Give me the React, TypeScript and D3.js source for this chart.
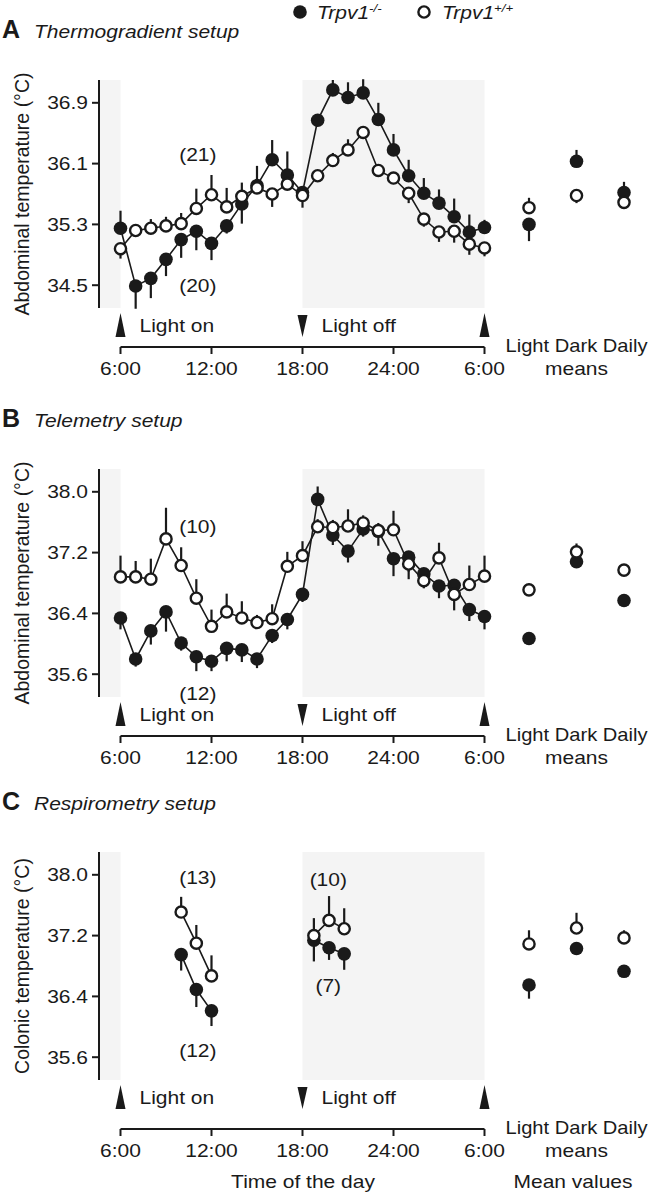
import React from "react";
import * as d3 from "d3";

// ---------- DATA ----------
const hours = [6, 7, 8, 9, 10, 11, 12, 13, 14, 15, 16, 17, 18, 19, 20, 21, 22, 23, 24, 25, 26, 27, 28, 29, 30];
const hourTicks = [6, 12, 18, 24, 30];
const hourTickLabels = ["6:00", "12:00", "18:00", "24:00", "6:00"];
const meanGroups = ["Light", "Dark", "Daily"];

// A: thermogradient (signed SEM: + drawn upward, - drawn downward)
const thermoKo = [35.25, 34.49, 34.59, 34.84, 35.1, 35.21, 35.05, 35.28, 35.57, 35.81, 36.15, 35.95, 35.72, 36.67, 37.07, 36.97, 37.03, 36.68, 36.28, 35.94, 35.71, 35.58, 35.4, 35.2, 35.26];
const thermoKoErr = [0.23, -0.3, -0.26, -0.22, -0.24, -0.25, -0.22, -0.1, -0.26, 0.26, 0.26, 0.31, 0.08, 0.08, 0.13, 0.2, 0.18, 0.22, 0.21, 0.21, 0.2, 0.18, 0.24, 0.23, 0.1];
const thermoWt = [34.98, 35.22, 35.25, 35.28, 35.31, 35.51, 35.69, 35.53, 35.67, 35.78, 35.7, 35.83, 35.68, 35.94, 36.14, 36.28, 36.51, 36.01, 35.91, 35.71, 35.37, 35.2, 35.21, 35.04, 34.99];
const thermoWtErr = [-0.13, 0.05, 0.12, 0.12, 0.14, 0.26, 0.26, 0.25, 0.18, 0.1, -0.17, 0.1, -0.16, 0.05, 0.1, 0.14, 0.05, -0.08, -0.08, -0.13, -0.1, -0.13, -0.15, -0.14, -0.11];

// B: telemetry
const telemKo = [36.34, 35.8, 36.17, 36.42, 36.01, 35.83, 35.77, 35.94, 35.92, 35.8, 36.11, 36.32, 36.65, 37.9, 37.43, 37.22, 37.51, 37.48, 37.12, 37.14, 36.92, 36.76, 36.77, 36.45, 36.36];
const telemKoErr = [-0.15, -0.1, -0.18, -0.26, -0.1, -0.19, -0.13, -0.17, -0.16, -0.12, -0.1, -0.13, -0.1, 0.17, -0.13, -0.15, -0.1, -0.19, -0.23, -0.29, -0.18, -0.16, -0.1, -0.15, -0.17];
const telemWt = [36.88, 36.88, 36.85, 37.38, 37.03, 36.6, 36.23, 36.42, 36.34, 36.28, 36.33, 37.02, 37.16, 37.54, 37.53, 37.55, 37.59, 37.49, 37.5, 37.05, 36.83, 37.13, 36.65, 36.78, 36.89];
const telemWtErr = [0.28, 0.21, 0.27, 0.41, 0.24, 0.25, 0.22, 0.24, 0.22, 0.1, 0.19, 0.19, 0.19, 0.1, 0.1, 0.22, 0.1, 0.1, 0.25, -0.1, -0.1, 0.2, -0.21, 0.25, 0.27];

// C: respirometry
const respHours = [10, 11, 12, 18.75, 19.75, 20.75];
const respKo = [36.95, 36.49, 36.21, 37.14, 37.04, 36.96];
const respKoErr = [-0.21, -0.23, -0.2, -0.28, -0.16, -0.21];
const respWt = [37.51, 37.1, 36.67, 37.2, 37.4, 37.29];
const respWtErr = [0.2, 0.24, 0.27, 0.23, 0.32, 0.27];

// Mean values (Light, Dark, Daily)
const meanThermoKo = [35.3, 36.13, 35.72];
const meanThermoKoErr = [-0.22, 0.15, 0.14];
const meanThermoWt = [35.52, 35.68, 35.59];
const meanThermoWtErr = [0.13, -0.1, -0.05];
const meanTelemKo = [36.07, 37.08, 36.57];
const meanTelemKoErr = [-0.08, -0.05, -0.05];
const meanTelemWt = [36.71, 37.21, 36.97];
const meanTelemWtErr = [0.08, 0.11, 0.05];
const meanRespKo = [36.55, 37.03, 36.73];
const meanRespKoErr = [-0.18, -0.05, -0.05];
const meanRespWt = [37.09, 37.3, 37.17];
const meanRespWtErr = [0.18, 0.2, 0.1];

const ticksA = [34.5, 35.3, 36.1, 36.9];
const ticksBC = [35.6, 36.4, 37.2, 38.0];

// ---------- LAYOUT ----------
const W = 650;
const H = 1200;
const FONT = "'Liberation Sans', Arial, Helvetica, sans-serif";
const SX = 1.2;
const AXIS_X = 99;
const PLOT_H = 228;

const x = d3.scaleLinear().domain([6, 30]).range([120.5, 484.5]);
const xm = d3.scalePoint<string>().domain(meanGroups).range([529, 624]);

type Series = { h: number[]; v: number[]; e: number[] };
type Panel = {
  letter: string;
  title: string;
  top: number;
  axisGap: number;
  domain: [number, number];
  ticks: number[];
  ylabel: string;
  ko: Series;
  wt: Series;
  mKo: number[];
  mKoE: number[];
  mWt: number[];
  mWtE: number[];
  notes: { t: string; h: number; v: number }[];
};

const panels: Panel[] = [
  {
    letter: "A",
    title: "Thermogradient setup",
    top: 80,
    axisGap: 39,
    domain: [34.2, 37.2],
    ticks: ticksA,
    ylabel: "Abdominal temperature (°C)",
    ko: { h: hours, v: thermoKo, e: thermoKoErr },
    wt: { h: hours, v: thermoWt, e: thermoWtErr },
    mKo: meanThermoKo,
    mKoE: meanThermoKoErr,
    mWt: meanThermoWt,
    mWtE: meanThermoWtErr,
    notes: [
      { t: "(21)", h: 11.1, v: 36.22 },
      { t: "(20)", h: 11.1, v: 34.5 },
    ],
  },
  {
    letter: "B",
    title: "Telemetry setup",
    top: 469,
    axisGap: 39,
    domain: [35.3, 38.3],
    ticks: ticksBC,
    ylabel: "Abdominal temperature (°C)",
    ko: { h: hours, v: telemKo, e: telemKoErr },
    wt: { h: hours, v: telemWt, e: telemWtErr },
    mKo: meanTelemKo,
    mKoE: meanTelemKoErr,
    mWt: meanTelemWt,
    mWtE: meanTelemWtErr,
    notes: [
      { t: "(10)", h: 11.1, v: 37.54 },
      { t: "(12)", h: 11.1, v: 35.35 },
    ],
  },
  {
    letter: "C",
    title: "Respirometry setup",
    top: 852,
    axisGap: 49,
    domain: [35.3, 38.3],
    ticks: ticksBC,
    ylabel: "Colonic temperature (°C)",
    ko: { h: respHours, v: respKo, e: respKoErr },
    wt: { h: respHours, v: respWt, e: respWtErr },
    mKo: meanRespKo,
    mKoE: meanRespKoErr,
    mWt: meanRespWt,
    mWtE: meanRespWtErr,
    notes: [
      { t: "(13)", h: 11.1, v: 37.96 },
      { t: "(12)", h: 11.1, v: 35.69 },
      { t: "(10)", h: 19.7, v: 37.93 },
      { t: "(7)", h: 19.7, v: 36.54 },
    ],
  },
];

function T(props: {
  x: number;
  y: number;
  anchor?: string;
  size?: number;
  italic?: boolean;
  bold?: boolean;
  sx?: number;
  dy?: string;
  children: React.ReactNode;
}) {
  const { x, y, anchor = "middle", size = 17.5, italic, bold, sx = SX, dy, children } = props;
  return (
    <text
      transform={`translate(${x},${y}) scale(${sx},1)`}
      textAnchor={anchor as any}
      fontSize={size}
      fontFamily={FONT}
      fontStyle={italic ? "italic" : "normal"}
      fontWeight={bold ? "bold" : "normal"}
      dy={dy}
      fill="#1a1a1a"
    >
      {children}
    </text>
  );
}

const R_FILL = 6.8;
const R_OPEN = 5.6;
const OPEN_SW = 2.4;
const INK = "#1a1a1a";

function segments(s: Series) {
  const segs: [number, number][][] = [];
  let cur: [number, number][] = [];
  s.h.forEach((h, i) => {
    if (i > 0 && h - s.h[i - 1] > 1.5) {
      segs.push(cur);
      cur = [];
    }
    cur.push([h, s.v[i]]);
  });
  if (cur.length) segs.push(cur);
  return segs;
}

function PanelView({ p }: { p: Panel }) {
  const bottom = p.top + PLOT_H;
  const y = d3.scaleLinear().domain(p.domain).range([bottom, p.top]);
  const line = d3
    .line<[number, number]>()
    .x((d) => x(d[0]))
    .y((d) => y(d[1]));

  const drawSeries = (s: Series, filled: boolean, key: string) => (
    <g key={key}>
      {segments(s).map((seg, i) => (
        <path key={i} d={line(seg) || ""} fill="none" stroke={INK} strokeWidth={1.6} />
      ))}
      {s.h.map((h, i) => (
        <line key={"e" + i} x1={x(h)} x2={x(h)} y1={y(s.v[i])} y2={y(s.v[i] + s.e[i])} stroke={INK} strokeWidth={2.2} />
      ))}
      {s.h.map((h, i) =>
        filled ? (
          <circle key={"c" + i} cx={x(h)} cy={y(s.v[i])} r={R_FILL} fill={INK} />
        ) : (
          <circle key={"c" + i} cx={x(h)} cy={y(s.v[i])} r={R_OPEN} fill="#fff" stroke={INK} strokeWidth={OPEN_SW} />
        )
      )}
    </g>
  );

  const drawMeans = (v: number[], e: number[], filled: boolean, key: string) => (
    <g key={key}>
      {meanGroups.map((g, i) => (
        <line key={"e" + i} x1={xm(g)!} x2={xm(g)!} y1={y(v[i])} y2={y(v[i] + e[i])} stroke={INK} strokeWidth={2.2} />
      ))}
      {meanGroups.map((g, i) =>
        filled ? (
          <circle key={"c" + i} cx={xm(g)!} cy={y(v[i])} r={R_FILL} fill={INK} />
        ) : (
          <circle key={"c" + i} cx={xm(g)!} cy={y(v[i])} r={R_OPEN} fill="#fff" stroke={INK} strokeWidth={OPEN_SW} />
        )
      )}
    </g>
  );

  const arrowUp = (cx: number) =>
    `M${cx - 5},${bottom + 29} L${cx + 5},${bottom + 29} L${cx},${bottom + 5} Z`;
  const arrowDown = (cx: number) =>
    `M${cx - 5},${bottom + 7} L${cx + 5},${bottom + 7} L${cx},${bottom + 29} Z`;
  const axisY = bottom + p.axisGap;

  return (
    <g>
      {/* title */}
      <T x={2} y={p.top - 42} anchor="start" size={25} bold sx={1}>
        {p.letter}
      </T>
      <T x={34} y={p.top - 42} anchor="start" size={17.5} italic>
        {p.title}
      </T>

      {/* dark-phase shading */}
      <rect x={AXIS_X} y={p.top} width={x(6) - AXIS_X} height={PLOT_H} fill="#f4f4f4" />
      <rect x={x(18)} y={p.top} width={x(30) - x(18)} height={PLOT_H} fill="#f4f4f4" />

      {/* y axis */}
      <line x1={AXIS_X} x2={AXIS_X} y1={p.top} y2={bottom} stroke={INK} strokeWidth={2} />
      {p.ticks.map((t) => (
        <g key={t}>
          <line x1={AXIS_X - 7} x2={AXIS_X} y1={y(t)} y2={y(t)} stroke={INK} strokeWidth={2} />
          <T x={AXIS_X - 11} y={y(t)} anchor="end" dy="0.36em">
            {t.toFixed(1)}
          </T>
        </g>
      ))}
      <text
        transform={`translate(22,${(p.top + bottom) / 2}) rotate(-90)`}
        textAnchor="middle"
        fontSize={19.5}
        fontFamily={FONT}
        fill={INK}
        dy="0.36em"
      >
        {p.ylabel}
      </text>

      {/* data */}
      {drawSeries(p.ko, true, "ko")}
      {drawSeries(p.wt, false, "wt")}
      {drawMeans(p.mKo, p.mKoE, true, "mko")}
      {drawMeans(p.mWt, p.mWtE, false, "mwt")}

      {p.notes.map((n, i) => (
        <T key={i} x={x(n.h)} y={y(n.v)} dy="0.36em">
          {n.t}
        </T>
      ))}

      {/* light markers */}
      <path d={arrowUp(x(6))} fill={INK} />
      <path d={arrowDown(x(18))} fill={INK} />
      <path d={arrowUp(x(30))} fill={INK} />
      <T x={x(6) + 19} y={bottom + 24} anchor="start">
        Light on
      </T>
      <T x={x(18) + 19} y={bottom + 24} anchor="start">
        Light off
      </T>

      {/* x axis */}
      <line x1={x(6)} x2={x(30)} y1={axisY} y2={axisY} stroke={INK} strokeWidth={2} />
      {hourTicks.map((h, i) => (
        <g key={i}>
          <line x1={x(h)} x2={x(h)} y1={axisY} y2={axisY + 7} stroke={INK} strokeWidth={2} />
          <T x={x(h)} y={axisY + 28}>
            {hourTickLabels[i]}
          </T>
        </g>
      ))}
      <T x={xm("Dark")!} y={axisY + 5} sx={1.15}>
        {meanGroups.join(" ")}
      </T>
      <T x={xm("Dark")!} y={axisY + 28}>
        means
      </T>
    </g>
  );
}

export default function App() {
  return (
    <svg
      width={W}
      height={H}
      viewBox={`0 0 ${W} ${H}`}
      style={{ position: "absolute", left: 0, top: 0, background: "#fff" }}
    >
      <rect width={W} height={H} fill="#fff" />
      {/* legend */}
      <circle cx={300} cy={12} r={6.8} fill={INK} />
      <text transform="translate(317,19) scale(1.2,1)" fontSize={17.5} fontStyle="italic" fontFamily={FONT} fill={INK}>
        Trpv1
        <tspan fontSize={11} dy={-7}>
          -/-
        </tspan>
      </text>
      <circle cx={424} cy={12} r={R_OPEN} fill="#fff" stroke={INK} strokeWidth={OPEN_SW} />
      <text transform="translate(442,19) scale(1.2,1)" fontSize={17.5} fontStyle="italic" fontFamily={FONT} fill={INK}>
        Trpv1
        <tspan fontSize={11} dy={-7}>
          +/+
        </tspan>
      </text>

      {panels.map((p) => (
        <PanelView key={p.letter} p={p} />
      ))}

      <T x={303} y={1188}>
        Time of the day
      </T>
      <T x={573} y={1188}>
        Mean values
      </T>
    </svg>
  );
}
